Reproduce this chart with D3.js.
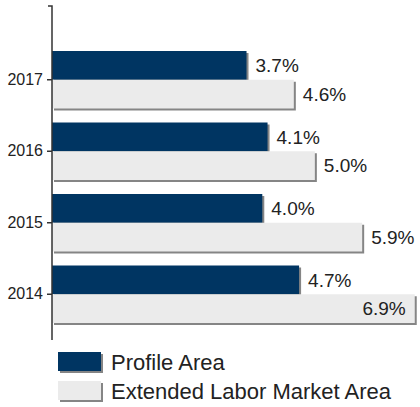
<!DOCTYPE html>
<html>
<head>
<meta charset="utf-8">
<script src="https://cdn.jsdelivr.net/npm/d3@7"></script>
<style>
  html, body { margin: 0; padding: 0; background: #fff; }
  svg { display: block; font-family: "Liberation Sans", Arial, sans-serif; }
</style>
</head>
<body>
<svg id="chart" width="420" height="407"></svg>
<script>
// Unemployment rate by year, profile area vs. extended labor market area
const years = ["2017", "2016", "2015", "2014"];
const seriesNames = ["Profile Area", "Extended Labor Market Area"];
const profileArea = [3.7, 4.1, 4.0, 4.7];
const extendedArea = [4.6, 5.0, 5.9, 6.9];
const seriesColors = ["#003562", "#ebebeb"];
const shadowColor = "#858585";
const textColor = "#222222";

const rows = years.map((yr, i) => ({ year: yr, values: [profileArea[i], extendedArea[i]] }));

const svg = d3.select("#chart");
const axisX = 52;

const x = d3.scaleLinear().domain([0, 7]).range([axisX, 420]);
const y = d3.scaleBand().domain(years).range([44, 330]).padding(0);
const ySub = d3.scaleBand().domain(seriesNames).range([7, y.bandwidth() - 7]).padding(0);

// Bars with a small drop shadow
const groups = svg.append("g").selectAll("g")
  .data(rows)
  .join("g")
  .attr("transform", d => `translate(0,${y(d.year)})`);

groups.each(function (d) {
  const g = d3.select(this);
  d.values.forEach((v, si) => {
    const name = seriesNames[si];
    const y0 = ySub(name);
    const h = ySub.bandwidth();
    g.append("rect")
      .attr("x", x(0) + 2)
      .attr("y", y0 + 2)
      .attr("width", x(v) - x(0))
      .attr("height", h)
      .attr("fill", shadowColor);
    g.append("rect")
      .attr("x", x(0))
      .attr("y", y0)
      .attr("width", x(v) - x(0))
      .attr("height", h)
      .attr("fill", seriesColors[si]);
  });
});

// Value labels: outside the bar end, or inside when they would overflow
groups.each(function (d) {
  const g = d3.select(this);
  d.values.forEach((v, si) => {
    const name = seriesNames[si];
    const cy = ySub(name) + ySub.bandwidth() / 2;
    const label = v.toFixed(1) + "%";
    const inside = x(v) + 10 + 44 > 420;
    g.append("text")
      .attr("x", inside ? x(v) - 9 : x(v) + 9)
      .attr("y", cy)
      .attr("dy", "0.36em")
      .attr("text-anchor", inside ? "end" : "start")
      .attr("font-size", 19)
      .attr("fill", textColor)
      .text(label);
  });
});

// Category axis
const axis = svg.append("g")
  .attr("transform", `translate(${axisX},0)`)
  .call(d3.axisLeft(y).tickSize(5).tickSizeOuter(0).tickPadding(4));
axis.select(".domain").remove();
axis.selectAll(".tick line").attr("stroke", "#333").attr("stroke-width", 1.5);
axis.selectAll(".tick text")
  .attr("font-size", 16)
  .attr("font-family", "Liberation Sans, Arial, sans-serif")
  .attr("fill", textColor);
axis.append("path")
  .attr("d", "M-4,6H0V340")
  .attr("fill", "none")
  .attr("stroke", "#333")
  .attr("stroke-width", 1.5);

// Legend
const legend = svg.append("g").attr("transform", "translate(58,352)");
seriesNames.forEach((name, i) => {
  const ly = i * 29;
  legend.append("rect")
    .attr("x", 2).attr("y", ly + 2)
    .attr("width", 43).attr("height", 19)
    .attr("fill", shadowColor);
  legend.append("rect")
    .attr("x", 0).attr("y", ly)
    .attr("width", 43).attr("height", 19)
    .attr("fill", seriesColors[i]);
  legend.append("text")
    .attr("x", 53)
    .attr("y", ly + 10)
    .attr("dy", "0.36em")
    .attr("font-size", 22)
    .attr("fill", textColor)
    .text(name);
});
</script>
</body>
</html>
